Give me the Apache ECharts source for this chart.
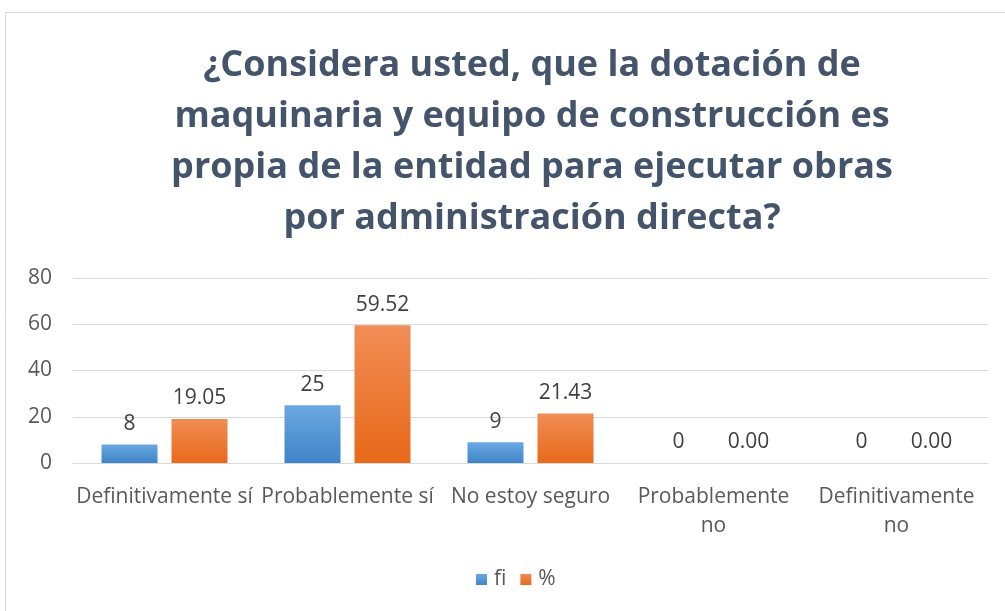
<!DOCTYPE html>
<html>
<head>
<meta charset="utf-8">
<script src="https://cdn.jsdelivr.net/npm/echarts@6/dist/echarts.min.js"></script>
<style>
  html, body { margin: 0; padding: 0; background: #fff; }
  #chart { width: 1005px; height: 611px; }
</style>
</head>
<body>
<div id="chart"></div>
<script>
// survey answers and their counts / percentages
const categories = ['Definitivamente sí', 'Probablemente sí', 'No estoy seguro', 'Probablemente no', 'Definitivamente no'];
const fiValues = [8, 25, 9, 0, 0];
const pctValues = [19.05, 59.52, 21.43, 0.00, 0.00];
const yTicks = [0, 20, 40, 60, 80];

const chart = echarts.init(document.getElementById('chart'));

const FONT = 'Open Sans';

const blueFill = new echarts.graphic.LinearGradient(0, 0, 0, 1, [
    { offset: 0, color: '#6aa8e2' },
    { offset: 1, color: '#3f84c8' }
]);
const orangeFill = new echarts.graphic.LinearGradient(0, 0, 0, 1, [
    { offset: 0, color: '#f08d55' },
    { offset: 1, color: '#e8691a' }
]);

const labelStyle = {
    show: true,
    position: 'top',
    distance: 10,
    color: '#404040',
    fontSize: 21,
    fontFamily: FONT
};

const option = {
    backgroundColor: '#fff',
    textStyle: { fontFamily: FONT },
    graphic: [{
        type: 'rect',
        shape: { x: 5.5, y: 12.5, width: 1010, height: 620 },
        style: { fill: 'none', stroke: '#d9d9d9', lineWidth: 1 },
        silent: true
    }],
    title: {
        text: '¿Considera usted, que la dotación de\nmaquinaria y equipo de construcción es\npropia de la entidad para ejecutar obras\npor administración directa?',
        left: 527,
        top: 35,
        textAlign: 'center',
        textStyle: {
            color: '#44546a',
            fontSize: 36,
            fontWeight: 'bold',
            fontFamily: FONT,
            lineHeight: 51
        }
    },
    legend: {
        data: ['fi', '%'],
        bottom: 16,
        left: 471,
        itemWidth: 11,
        itemHeight: 11,
        itemGap: 14,
        icon: 'rect',
        textStyle: { color: '#595959', fontSize: 21, fontFamily: FONT, padding: [0, 0, 0, 2] }
    },
    grid: {
        left: 73,
        right: 17,
        top: 278,
        bottom: 148,
        containLabel: false
    },
    xAxis: {
        type: 'category',
        data: categories,
        axisLine: { show: true, lineStyle: { color: '#d9d9d9' } },
        axisTick: { show: false },
        axisLabel: {
            interval: 0,
            color: '#595959',
            fontSize: 21,
            fontFamily: FONT,
            lineHeight: 29,
            margin: 20,
            formatter: v => v.endsWith(' no') ? v.replace(/ no$/, '\nno') : v
        }
    },
    yAxis: {
        type: 'value',
        min: yTicks[0],
        max: yTicks[yTicks.length - 1],
        interval: 20,
        axisLine: { show: false },
        axisTick: { show: false },
        splitLine: { lineStyle: { color: '#d9d9d9' } },
        axisLabel: {
            color: '#595959',
            fontSize: 21,
            fontFamily: FONT,
            margin: 21
        }
    },
    series: [
        {
            name: 'fi',
            type: 'bar',
            data: fiValues,
            barWidth: 56,
            barGap: '25%',
            itemStyle: { color: blueFill },
            label: labelStyle
        },
        {
            name: '%',
            type: 'bar',
            data: pctValues,
            barWidth: 56,
            itemStyle: { color: orangeFill },
            label: Object.assign({}, labelStyle, { formatter: p => p.value.toFixed(2) })
        }
    ]
};

chart.setOption(option);
window.addEventListener('resize', chart.resize);
</script>
</body>
</html>
